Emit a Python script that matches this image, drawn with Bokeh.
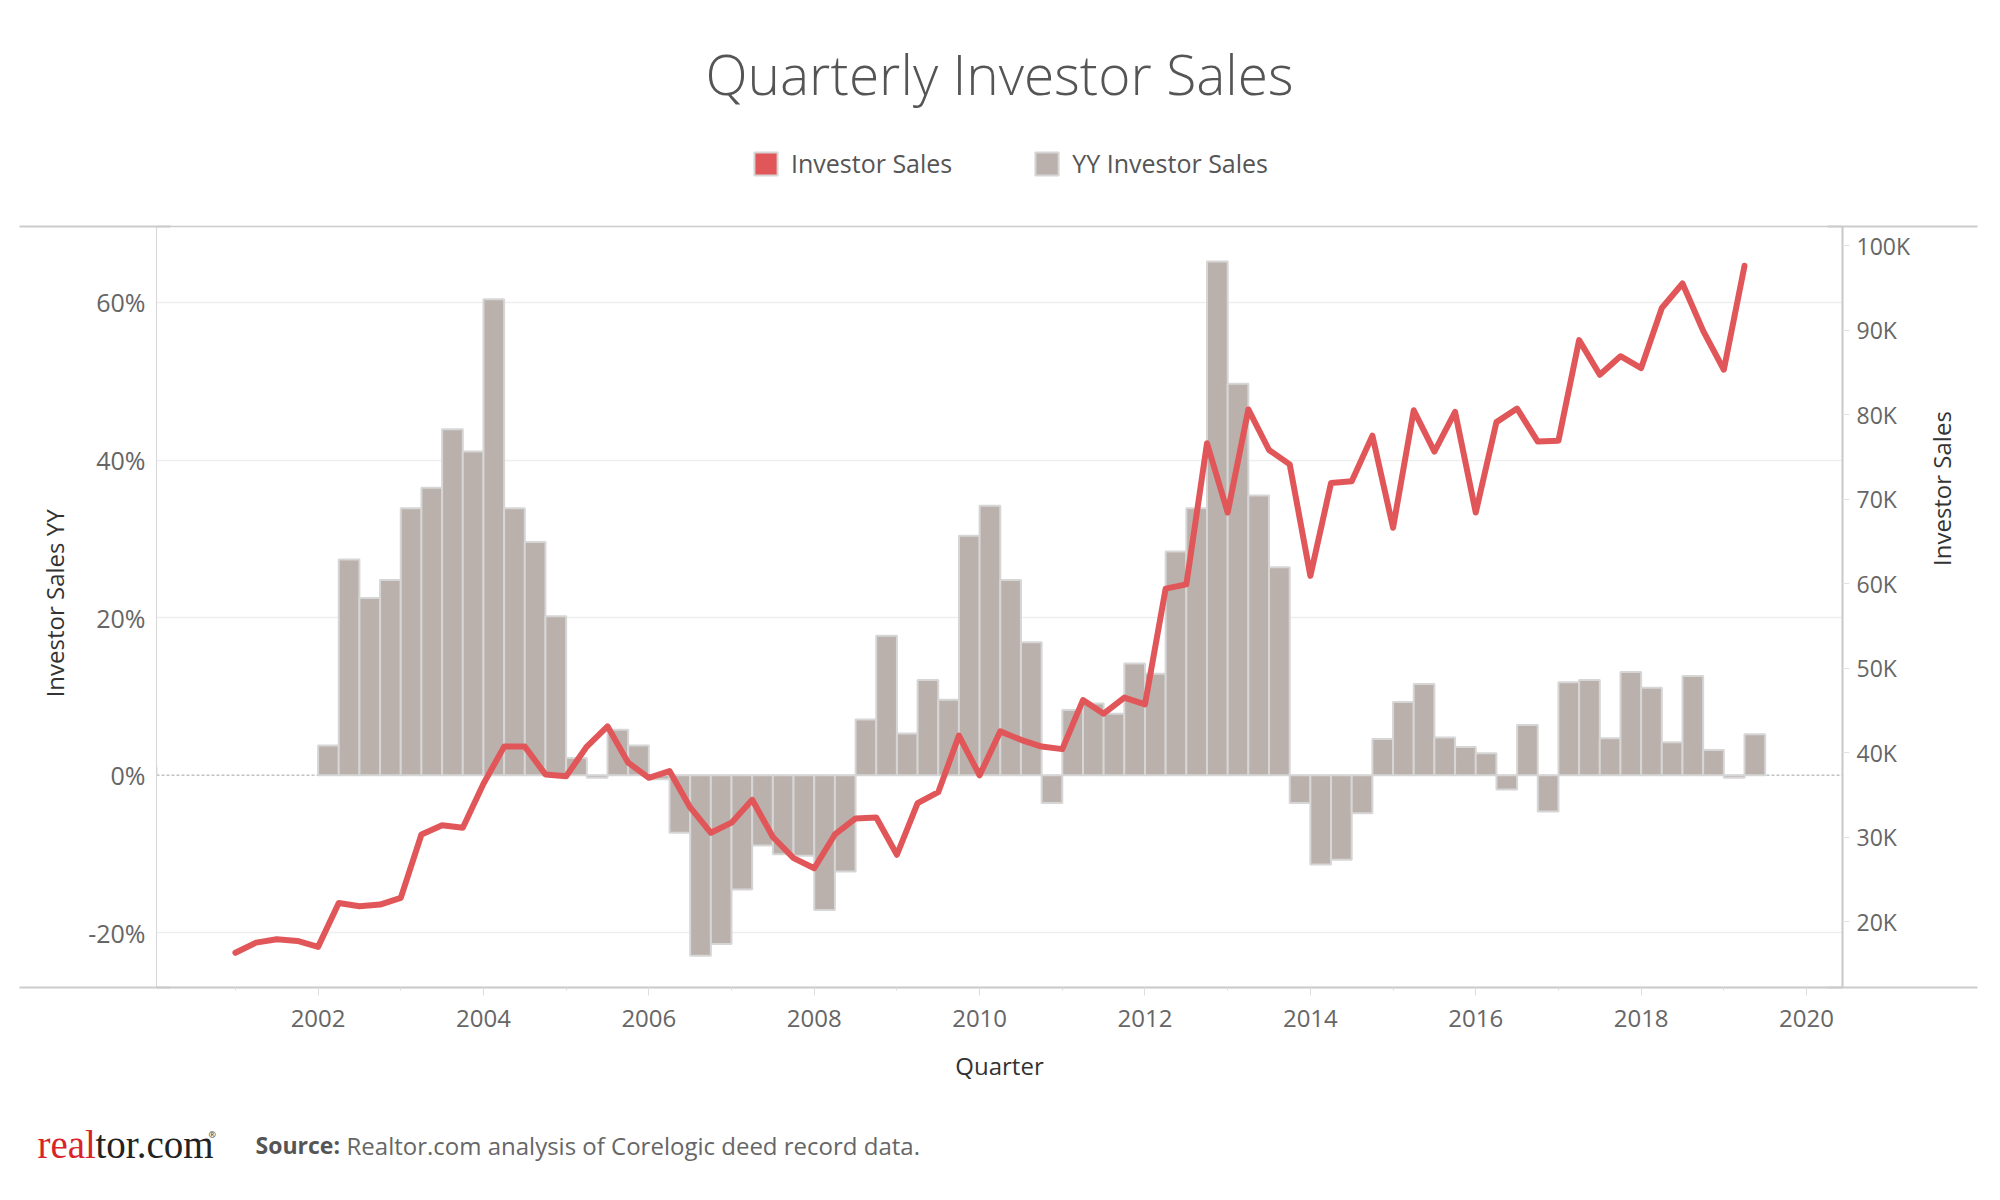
import math
from bokeh.plotting import figure
from bokeh.models import (Range1d, LinearAxis, FixedTicker, Span, Legend,
                          LegendItem, ColumnDataSource, Title)
from bokeh.embed import file_html
from bokeh.resources import INLINE

# ---------------- data ----------------
sales_start = (2001, 1)          # first quarter of the Investor Sales line
investor_sales_k = [
    16.3, 17.5, 17.9, 17.7,   # 2001
    17.0, 22.2, 21.8, 22.0,   # 2002
    22.8, 30.3, 31.4, 31.1,   # 2003
    36.3, 40.7, 40.7, 37.4,   # 2004
    37.2, 40.7, 43.1, 38.8,   # 2005
    37.0, 37.8, 33.5, 30.5,   # 2006
    31.7, 34.4, 30.0, 27.5,   # 2007
    26.3, 30.3, 32.2, 32.3,   # 2008
    27.9, 34.0, 35.3, 42.0,   # 2009
    37.3, 42.5, 41.5, 40.7,   # 2010
    40.4, 46.2, 44.6, 46.5,   # 2011
    45.7, 59.4, 59.9, 76.6,   # 2012
    68.4, 80.6, 75.8, 74.1,   # 2013
    60.9, 71.9, 72.1, 77.5,   # 2014
    66.6, 80.5, 75.6, 80.3,   # 2015
    68.4, 79.1, 80.7, 76.8,   # 2016
    76.9, 88.8, 84.7, 86.9,   # 2017
    85.5, 92.6, 95.5, 89.9,   # 2018
    85.3, 97.6,               # 2019
]

yy_start = (2002, 1)             # first quarter of the YY bars
yy_investor_sales_pct = [
    3.8, 27.4, 22.5, 24.8,    # 2002
    33.9, 36.5, 43.9, 41.1,   # 2003
    60.4, 33.9, 29.6, 20.2,   # 2004
    2.2, -0.3, 5.8, 3.8,      # 2005
    -0.5, -7.3, -22.9, -21.4, # 2006
    -14.5, -8.9, -10.0, -10.2,# 2007
    -17.1, -12.2, 7.1, 17.7,  # 2008
    5.3, 12.1, 9.6, 30.4,     # 2009
    34.2, 24.8, 16.9, -3.5,   # 2010
    8.3, 9.1, 7.8, 14.2,      # 2011
    12.9, 28.4, 33.9, 65.2,   # 2012
    49.7, 35.5, 26.4, -3.5,   # 2013
    -11.3, -10.7, -4.8, 4.6,  # 2014
    9.3, 11.6, 4.8, 3.6,      # 2015
    2.8, -1.8, 6.4, -4.6,     # 2016
    11.8, 12.1, 4.7, 13.1,    # 2017
    11.1, 4.2, 12.6, 3.2,     # 2018
    -0.3, 5.2,                # 2019
]

year_ticks = [2002, 2004, 2006, 2008, 2010, 2012, 2014, 2016, 2018, 2020]
year_minor_ticks = [2001, 2003, 2005, 2007, 2009, 2011, 2013, 2015, 2017, 2019]
pct_ticks = [-20, 0, 20, 40, 60]
pct_labels = ["-20%", "0%", "20%", "40%", "60%"]
sales_ticks = [20000, 30000, 40000, 50000, 60000, 70000, 80000, 90000, 100000]
sales_labels = ["20K", "30K", "40K", "50K", "60K", "70K", "80K", "90K", "100K"]


def quarter_positions(start, n):
    y, q = start
    out, names = [], []
    for _ in range(n):
        out.append(y + (q - 1) / 4.0)
        names.append(f"{y} Q{q}")
        q += 1
        if q > 4:
            q, y = 1, y + 1
    return out, names


line_x, line_q = quarter_positions(sales_start, len(investor_sales_k))
bar_x, bar_q = quarter_positions(yy_start, len(yy_investor_sales_pct))

line_src = ColumnDataSource(dict(x=line_x, quarter=line_q,
                                 sales=[v * 1000 for v in investor_sales_k]))
bar_src = ColumnDataSource(dict(x=[b + 0.125 for b in bar_x], quarter=bar_q,
                                yy=yy_investor_sales_pct))

# ---------------- layout constants (page pixels) ----------------
W, H = 2000, 1200
FL, FR, FB = 156, 1842, 987      # plot area edges on the page
FT_BORDER = 226                  # top border line of the plot area
FT = 144                         # frame top (frame reaches up to hold the legend)
FONT = "Open Sans"
BAR_FILL, BAR_LINE, RED = "#bab0ac", "#d6d6d6", "#e15759"
BORDER = "#cccccc"
NBSP = "\u00a0"

PCT_BOTTOM, PCT_BORDER = -26.92, 69.64          # % at frame bottom / top border line
SALES_BOTTOM, SALES_BORDER = 12190, 102250
px_per_pct = (FB - FT_BORDER) / (PCT_BORDER - PCT_BOTTOM)
px_per_sale = (FB - FT_BORDER) / (SALES_BORDER - SALES_BOTTOM)
PCT_TOP = PCT_BORDER + (FT_BORDER - FT) / px_per_pct
SALES_TOP = SALES_BORDER + (FT_BORDER - FT) / px_per_sale

p = figure(width=W, height=H, output_backend="svg", toolbar_location=None,
           title=None,
           x_range=Range1d(2000.046, 2020.435), y_range=Range1d(PCT_BOTTOM, PCT_TOP),
           min_border_left=FL, min_border_right=W - FR,
           min_border_top=FT, min_border_bottom=H - FB,
           background_fill_color="white", border_fill_color="white",
           outline_line_color=None)
p.extra_y_ranges = {"sales": Range1d(SALES_BOTTOM, SALES_TOP)}

p.xgrid.visible = False
p.ygrid.ticker = FixedTicker(ticks=[-20, 20, 40, 60])
p.ygrid.grid_line_color = "#eeeeee"
p.ygrid.grid_line_width = 1.5

# top border line of the plot area and the dotted zero line
p.add_layout(Span(location=PCT_BORDER, dimension="width", line_color=BORDER,
                  line_width=1.5))
p.add_layout(Span(location=0, dimension="width", line_color="#c2c2c2",
                  line_dash="3 2", line_width=1.5, level="underlay"))

bars = p.vbar(x="x", top="yy", bottom=0, width=0.25, source=bar_src,
              fill_color=BAR_FILL, line_color=BAR_LINE, line_width=2)

p.line(x="x", y="sales", source=line_src, y_range_name="sales",
       line_color=RED, line_width=6, line_join="round", line_cap="round")

# swatch renderer for the line's legend entry (its one point lies outside the x range)
red_key = p.vbar(x=[1990.0], top=[1.0], width=0.25, fill_color=RED,
                 line_color=BAR_LINE, line_width=2)

# ---------------- x axis ----------------
xa = p.xaxis[0]
xa.ticker = FixedTicker(ticks=year_ticks, minor_ticks=year_minor_ticks)
xa.major_label_overrides = {t: str(t) for t in year_ticks}
xa.axis_line_color = "#c8c8c8"
xa.axis_line_width = 2
xa.major_tick_in = 0
xa.major_tick_out = 8
xa.minor_tick_in = 0
xa.minor_tick_out = 3
xa.major_tick_line_color = "#dddddd"
xa.minor_tick_line_color = "#dddddd"
xa.major_label_standoff = 14
xa.major_label_text_font = FONT
xa.major_label_text_font_size = "24px"
xa.major_label_text_color = "#666666"
xa.axis_label = "Quarter"
xa.axis_label_text_font = FONT
xa.axis_label_text_font_size = "24px"
xa.axis_label_text_font_style = "normal"
xa.axis_label_text_color = "#333333"
xa.axis_label_standoff = 19

# ---------------- left axis ----------------
ya = p.yaxis[0]
ya.bounds = (PCT_BOTTOM, PCT_BORDER)
ya.ticker = FixedTicker(ticks=pct_ticks)
ya.major_label_overrides = dict(zip(pct_ticks, pct_labels))
ya.axis_line_color = "#d6d6d6"
ya.axis_line_width = 1
ya.major_tick_line_color = None
ya.major_tick_in = 0
ya.major_tick_out = 0
ya.minor_tick_line_color = None
ya.major_label_standoff = 11
ya.major_label_text_font = FONT
ya.major_label_text_font_size = "25px"
ya.major_label_text_color = "#666666"
# trailing no-break spaces centre the visible words on the bordered plot area
ya.axis_label = "Investor Sales YY" + NBSP * 12
ya.axis_label_text_font = FONT
ya.axis_label_text_font_size = "24px"
ya.axis_label_text_font_style = "normal"
ya.axis_label_text_color = "#333333"
ya.axis_label_standoff = 14

# ---------------- right axis ----------------
ra = LinearAxis(y_range_name="sales", ticker=FixedTicker(ticks=sales_ticks),
                bounds=(SALES_BOTTOM, SALES_BORDER))
ra.major_label_overrides = dict(zip(sales_ticks, sales_labels))
ra.axis_line_color = "#c8c8c8"
ra.axis_line_width = 2
ra.major_tick_in = 0
ra.major_tick_out = 7
ra.major_tick_line_color = "#e2e2e2"
ra.minor_tick_line_color = None
ra.major_label_standoff = 7
ra.major_label_text_font = FONT
ra.major_label_text_font_size = "23px"
ra.major_label_text_color = "#666666"
ra.axis_label = "Investor Sales" + NBSP * 12
ra.axis_label_text_font = FONT
ra.axis_label_text_font_size = "24px"
ra.axis_label_text_font_style = "normal"
ra.axis_label_text_color = "#333333"
ra.axis_label_text_align = "center"
ra.axis_label_standoff = 28
ra.axis_label_orientation = math.pi / 2
p.add_layout(ra, "right")

# ---------------- border lines that run out past the axes ----------------
edge_ticks = [PCT_BOTTOM + 0.001, PCT_BORDER]


def edge_axis(tick_out, tick_in):
    ax = LinearAxis(ticker=FixedTicker(ticks=edge_ticks, minor_ticks=[]))
    ax.major_label_overrides = {t: "" for t in edge_ticks}
    ax.major_label_text_font_size = "1px"
    ax.major_label_standoff = 0
    ax.axis_line_color = None
    ax.minor_tick_line_color = None
    ax.major_tick_line_color = BORDER
    ax.major_tick_line_width = 2
    ax.major_tick_out = tick_out
    ax.major_tick_in = tick_in
    return ax


p.add_layout(edge_axis(16, 135), "left")
p.add_layout(edge_axis(0, 150), "right")

# ---------------- legend (inside the upper strip of the frame) ----------------
legend = Legend(items=[LegendItem(label="Investor Sales", renderers=[red_key]),
                       LegendItem(label="YY Investor Sales", renderers=[bars])],
                orientation="horizontal", location=(751 - FL, FB - 180),
                padding=0, margin=0, spacing=80, label_standoff=11,
                glyph_width=29, glyph_height=29,
                label_text_font=FONT, label_text_font_size="25px",
                label_text_color="#555555",
                border_line_alpha=0, background_fill_alpha=0)
p.add_layout(legend)

# ---------------- title ----------------
p.add_layout(Title(text="Quarterly Investor Sales", align="center",
                   vertical_align="bottom", standoff=67,
                   text_font="Open Sans Light, Open Sans", text_font_size="55px",
                   text_font_style="normal", text_color="#555555"), "above")

# ---------------- footer ----------------
# a label-less axis below the x axis that only provides vertical room
gap_tick = [2020.3]
gap = LinearAxis(ticker=FixedTicker(ticks=gap_tick, minor_ticks=[]))
gap.major_label_overrides = {t: "" for t in gap_tick}
gap.major_label_text_font_size = "1px"
gap.major_label_standoff = 0
gap.axis_line_color = None
gap.minor_tick_line_color = None
gap.major_tick_line_color = "white"
gap.major_tick_line_width = 1
gap.major_tick_in = 0
gap.major_tick_out = 60
p.add_layout(gap, "below")


def foot_text(text, page_x, size, color, font=FONT, style="normal", est_h=30):
    p.add_layout(Title(text=text, align="left", vertical_align="middle",
                       offset=page_x - FL, standoff=-(est_h + 2),
                       text_font=font, text_font_size=size,
                       text_font_style=style, text_color=color), "below")


foot_text("real", 37, "39px", "#d9232a", font="Liberation Serif", est_h=44)
foot_text("tor.com", 95, "39px", "#222222", font="Liberation Serif", est_h=44)
foot_text("Source:", 255, "23px", "#555555", style="bold", est_h=31)
foot_text("Realtor.com analysis of Corelogic deed record data.", 346, "24px",
          "#666666", est_h=33)
p.add_layout(Title(text="®", align="left", vertical_align="top", offset=208 - FL,
                   standoff=-36, text_font=FONT, text_font_size="9px",
                   text_color="#555555"), "below")

open("out.html", "w").write(file_html(p, INLINE))
